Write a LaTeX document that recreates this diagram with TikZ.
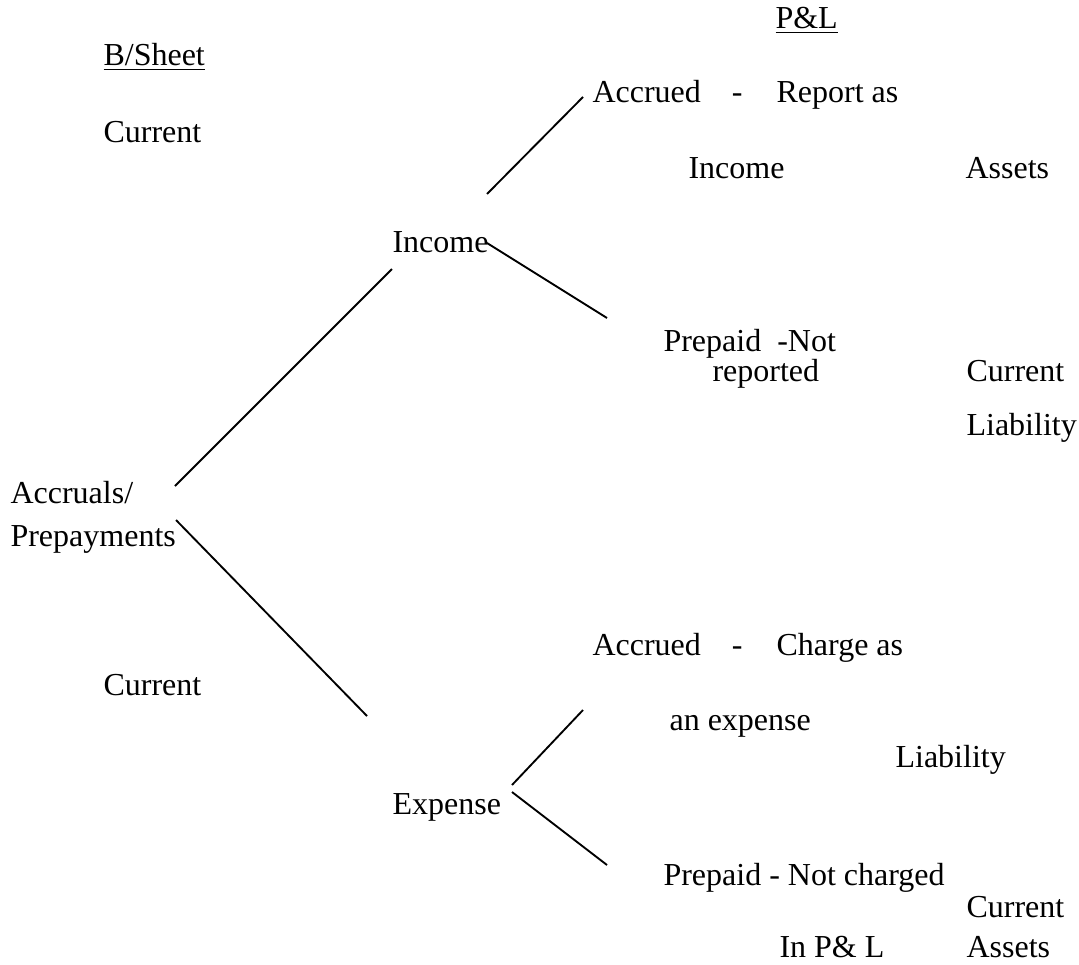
\documentclass[tikz,border=0pt]{standalone}
\usepackage{fontspec}
\setmainfont{Liberation Serif}
\tikzset{
  lbl/.style={anchor=base west, inner sep=0pt, font=\fontsize{12}{14}\selectfont},
  branch/.style={draw, line width=0.7pt}
}

\begin{document}
\begin{tikzpicture}[x=0.375pt, y=-0.375pt]
\useasboundingbox (0,0) rectangle (1079,964);

% column heads and left labels
\node[lbl] (pl) at (775,28) {\underline{P\&L}};
\node[lbl] (bs) at (103,65) {\underline{B/Sheet}};
\node[lbl] (curA) at (103,142) {Current};
\node[lbl] (curB) at (103,695) {Current};
\node[lbl] (accr) at (10,503) {Accruals/};
\node[lbl] (prep) at (10,546) {Prepayments};

% income side
\node[lbl] (inc) at (392,252) {Income};
\node[lbl] (accrI) at (592,102) {Accrued\hspace{11.6pt}-\hspace{12.8pt}Report as};
\node[lbl] (incI) at (688,178) {Income};
\node[lbl] (astI) at (965,178) {Assets};
\node[lbl] (prepI) at (663,351) {Prepaid\ \ -Not};
\node[lbl] (repI) at (712,381) {reported};
\node[lbl] (curI) at (966,381) {Current};
\node[lbl] (liabI) at (966,435) {Liability};

% expense side
\node[lbl] (exp) at (392,814) {Expense};
\node[lbl] (accrE) at (592,655) {Accrued\hspace{11.6pt}-\hspace{12.8pt}Charge as};
\node[lbl] (anexp) at (669,730) {an expense};
\node[lbl] (liabE) at (895,767) {Liability};
\node[lbl] (prepE) at (663,885) {Prepaid - Not charged};
\node[lbl] (curE) at (966,917) {Current};
\node[lbl] (inpl) at (779,957) {In P\& L};
\node[lbl] (astE) at (966,957) {Assets};

\path[branch] ([shift={(165,-17)}]accr.base west) -- ([shift={(0,17)}]inc.base west);
\path[branch] ([shift={(166,17)}]accr.base west) -- ([shift={(-25,-98)}]exp.base west);
\path[branch] ([shift={(95,-58)}]inc.base west) -- ([shift={(-9,-5)}]accrI.base west);
\path[branch] ([shift={(95,-9)}]inc.base west) -- ([shift={(-56,-33)}]prepI.base west);
\path[branch] ([shift={(120,-29)}]exp.base west) -- ([shift={(-9,55)}]accrE.base west);
\path[branch] ([shift={(120,-22)}]exp.base west) -- ([shift={(-56,-20)}]prepE.base west);
\end{tikzpicture}
\end{document}
